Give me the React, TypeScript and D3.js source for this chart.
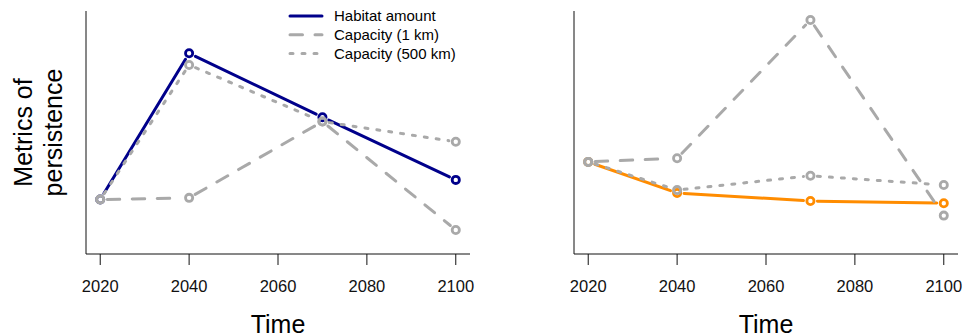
import React from "react";
import * as d3 from "d3";

// Time points where persistence metrics were computed
const years = [2020, 2040, 2070, 2100];
const tickYears = [2020, 2040, 2060, 2080, 2100];

// Relative metric values (unitless, shared vertical scale per panel)
const leftHabitat = [0.224, 0.826, 0.563, 0.305];
const leftCap1km = [0.224, 0.231, 0.545, 0.099];
const leftCap500km = [0.224, 0.778, 0.545, 0.462];

const rightHabitat = [0.379, 0.251, 0.218, 0.209];
const rightCap1km = [0.379, 0.394, 0.963, 0.158];
const rightCap500km = [0.379, 0.263, 0.322, 0.284];

const legendLabels = ["Habitat amount", "Capacity (1 km)", "Capacity (500 km)"];

const GREY = "#a9a9a9";
const BLUE = "#00008b";
const ORANGE = "#ff8c00";
const FONT = "'Liberation Sans', Arial, Helvetica, sans-serif";

const W = 964;
const H = 335;
const plotW = 384;
const top = 11;
const bottom = 254;

type Series = { values: number[]; color: string; dash: string | null };

const dashed = "12.5 12.5";
const dotted = "3 9";

const x = d3.scaleLinear().domain([2016.8, 2103.2]).range([0, plotW]);
const y = d3.scaleLinear().domain([0, 1]).range([bottom, top]);
const seg = d3.line<[number, number]>();

// Lines with gaps around each point, like type="b"
function gappedSegments(values: number[], gap: number) {
  const pts = values.map((v, i) => [x(years[i]), y(v)] as [number, number]);
  const out: [number, number][][] = [];
  for (let i = 0; i < pts.length - 1; i++) {
    const [x0, y0] = pts[i];
    const [x1, y1] = pts[i + 1];
    const len = Math.hypot(x1 - x0, y1 - y0);
    if (len <= 2 * gap) continue;
    const ux = (x1 - x0) / len;
    const uy = (y1 - y0) / len;
    out.push([
      [x0 + ux * gap, y0 + uy * gap],
      [x1 - ux * gap, y1 - uy * gap],
    ]);
  }
  return out;
}

function Panel({ offsetX, series, legend }: { offsetX: number; series: Series[]; legend: boolean }) {
  return (
    <g transform={`translate(${offsetX},0)`}>
      {/* L-shaped frame */}
      <line x1={0} x2={0} y1={top} y2={bottom} stroke="#111" strokeWidth={1} />
      <line x1={0} x2={plotW} y1={bottom} y2={bottom} stroke="#111" strokeWidth={1} />
      {tickYears.map((t) => (
        <g key={t} transform={`translate(${x(t)},0)`}>
          <line y1={bottom} y2={bottom + 11} stroke="#111" strokeWidth={1} />
          <text y={292} textAnchor="middle" fontSize={16.5} fontFamily={FONT} fill="#111">
            {t}
          </text>
        </g>
      ))}
      <text x={plotW / 2} y={333} textAnchor="middle" fontSize={25} fontFamily={FONT} fill="#000">
        Time
      </text>

      {series.map((s, si) => (
        <g key={si}>
          {gappedSegments(s.values, 7).map((p, i) => (
            <path
              key={i}
              d={seg(p) ?? ""}
              fill="none"
              stroke={s.color}
              strokeWidth={3}
              strokeLinecap="round"
              strokeDasharray={s.dash ?? undefined}
            />
          ))}
          {s.values.map((v, i) => (
            <circle key={i} cx={x(years[i])} cy={y(v)} r={3.6} fill="none" stroke={s.color} strokeWidth={2.8} />
          ))}
        </g>
      ))}

      {legend &&
        series.map((s, i) => {
          const ly = 16 + i * 18.8;
          return (
            <g key={i}>
              <line
                x1={204}
                x2={236}
                y1={ly}
                y2={ly}
                stroke={s.color}
                strokeWidth={3}
                strokeLinecap="round"
                strokeDasharray={s.dash ?? undefined}
              />
              <text x={248} y={ly + 5.3} fontSize={15} fontFamily={FONT} fill="#000">
                {legendLabels[i]}
              </text>
            </g>
          );
        })}
    </g>
  );
}

export default function App() {
  const leftSeries: Series[] = [
    { values: leftHabitat, color: BLUE, dash: null },
    { values: leftCap1km, color: GREY, dash: dashed },
    { values: leftCap500km, color: GREY, dash: dotted },
  ];
  const rightSeries: Series[] = [
    { values: rightHabitat, color: ORANGE, dash: null },
    { values: rightCap1km, color: GREY, dash: dashed },
    { values: rightCap500km, color: GREY, dash: dotted },
  ];
  const midY = (top + bottom) / 2;
  return (
    <svg
      width={W}
      height={H}
      viewBox={`0 0 ${W} ${H}`}
      style={{ position: "absolute", left: 0, top: 0, background: "#fff" }}
    >
      <rect width={W} height={H} fill="#fff" />
      <g fontFamily={FONT} fontSize={25} fill="#000" textAnchor="middle">
        <text transform={`translate(32,${midY}) rotate(-90)`}>Metrics of</text>
        <text transform={`translate(62,${midY}) rotate(-90)`}>persistence</text>
      </g>
      <Panel offsetX={86} series={leftSeries} legend={true} />
      <Panel offsetX={574} series={rightSeries} legend={false} />
    </svg>
  );
}
